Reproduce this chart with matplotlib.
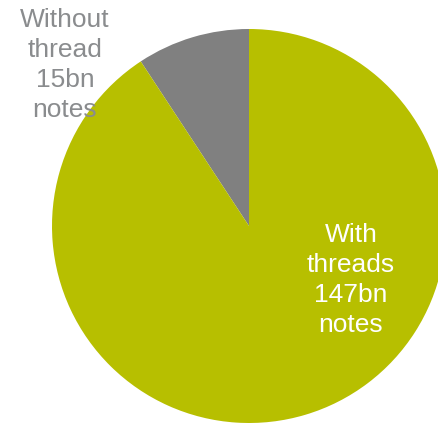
import matplotlib
matplotlib.use('Agg')
import matplotlib.pyplot as plt

# data
labels = ['Without\nthread\n15bn\nnotes', 'With\nthreads\n147bn\nnotes']
values = [15, 147]
colors = ['#808080', '#B7BF00']

plt.rcParams['font.family'] = ['Liberation Sans', 'DejaVu Sans']

fig = plt.figure(figsize=(4.39, 4.23), dpi=100)
ax = fig.add_axes([0, 0, 1, 1])

# pie placed in pixel coords (y up)
cx, cy, r = 249, 423 - 226, 197
ax.pie(values, colors=colors, startangle=90, counterclock=True,
       center=(cx, cy), radius=r, frame=True,
       wedgeprops=dict(linewidth=0))

ax.set_xlim(0, 439)
ax.set_ylim(0, 423)
ax.set_aspect('equal')
ax.axis('off')

ax.text(65, 423 - 65, labels[0], ha='center', va='center',
        fontsize=19, color='#8A8C8E', linespacing=1.32)
ax.text(351, 423 - 280, labels[1], ha='center', va='center',
        fontsize=19, color='white', linespacing=1.32)

plt.savefig('out.png', dpi=100)
